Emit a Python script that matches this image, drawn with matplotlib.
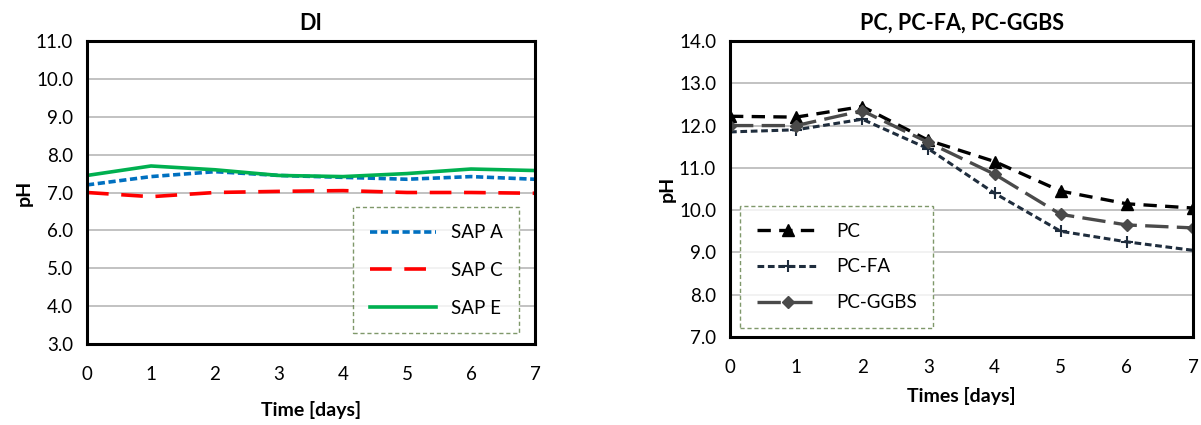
import matplotlib
matplotlib.use("Agg")
import matplotlib.pyplot as plt

plt.rcParams['font.family'] = ['Lato', 'DejaVu Sans']

days = [0, 1, 2, 3, 4, 5, 6, 7]
sap_a = [7.20, 7.42, 7.55, 7.45, 7.40, 7.35, 7.42, 7.35]
sap_c = [7.00, 6.89, 7.00, 7.03, 7.05, 7.00, 7.00, 6.98]
sap_e = [7.45, 7.70, 7.60, 7.45, 7.42, 7.50, 7.62, 7.58]

pc = [12.22, 12.20, 12.45, 11.65, 11.15, 10.45, 10.15, 10.05]
pc_fa = [11.85, 11.90, 12.15, 11.45, 10.40, 9.50, 9.25, 9.05]
pc_ggbs = [12.00, 12.00, 12.35, 11.60, 10.85, 9.90, 9.65, 9.58]

left_yticks = [3.0, 4.0, 5.0, 6.0, 7.0, 8.0, 9.0, 10.0, 11.0]
right_yticks = [7.0, 8.0, 9.0, 10.0, 11.0, 12.0, 13.0, 14.0]

fig = plt.figure(figsize=(12.01, 4.25), dpi=100)
ax1 = fig.add_axes([87/1201, 81/425, 448/1201, 303/425])
ax2 = fig.add_axes([730/1201, 88/425, 463/1201, 296/425])

def style(ax, yt, title, xlabel, xlpad):
    ax.set_xlim(0, 7)
    ax.set_ylim(yt[0], yt[-1])
    ax.set_yticks(yt)
    ax.set_yticklabels([f"{v:.1f}" for v in yt])
    ax.set_xticks(days)
    ax.grid(axis='y', color='#b8b8b8', linewidth=1.2)
    ax.set_axisbelow(True)
    for s in ax.spines.values():
        s.set_linewidth(2.2)
        s.set_color('black')
    ax.tick_params(axis='y', length=0, labelsize=13.5, pad=10)
    ax.tick_params(axis='x', length=0, labelsize=13.5, pad=16)
    ax.set_title(title, fontsize=15.5, fontweight='bold', pad=8)
    ax.set_xlabel(xlabel, fontsize=14, fontweight='bold', labelpad=xlpad)
    ax.set_ylabel('pH', fontsize=14, fontweight='bold', labelpad=2)

ax1.plot(days, sap_a, color='#0070C0', lw=2.6, ls=(0, (2.0, 1.0)), label='SAP A')
ax1.plot(days, sap_c, color='#FF0000', lw=2.6, ls=(0, (6.0, 3.5)), label='SAP C')
ax1.plot(days, sap_e, color='#00B050', lw=2.6, ls='-', label='SAP E')
style(ax1, left_yticks, 'DI', 'Time [days]', 13)
leg1 = ax1.legend(loc='lower right', bbox_to_anchor=(0.965, 0.035), fontsize=13.5,
                  frameon=True, fancybox=False, handlelength=3.5, labelspacing=1.1,
                  borderpad=0.9, handletextpad=0.8, borderaxespad=0)
leg1.get_frame().set_edgecolor('#5f7f45')
leg1.get_frame().set_linestyle((0, (3, 2)))
leg1.get_frame().set_linewidth(1.0)

ax2.plot(days, pc, color='black', lw=2.4, ls=(0, (4, 2.5)), marker='^', ms=8, label='PC')
ax2.plot(days, pc_fa, color='#1f2d3d', lw=2.2, ls=(0, (2.2, 1.2)), marker='+', ms=9, mew=1.5, label='PC-FA')
ax2.plot(days, pc_ggbs, color='#4a4a4a', lw=2.4, ls=(0, (7, 2.5)), marker='D', ms=6.5, label='PC-GGBS')
style(ax2, right_yticks, 'PC, PC-FA, PC-GGBS', 'Times [days]', 8)
leg2 = ax2.legend(loc='lower left', bbox_to_anchor=(0.022, 0.03), fontsize=13.5,
                  frameon=True, fancybox=False, handlelength=3.3, labelspacing=1.0,
                  borderpad=0.9, handletextpad=0.9, borderaxespad=0)
leg2.get_frame().set_edgecolor('#5f7f45')
leg2.get_frame().set_linestyle((0, (3, 2)))
leg2.get_frame().set_linewidth(1.0)

fig.savefig('out.png', dpi=100)
